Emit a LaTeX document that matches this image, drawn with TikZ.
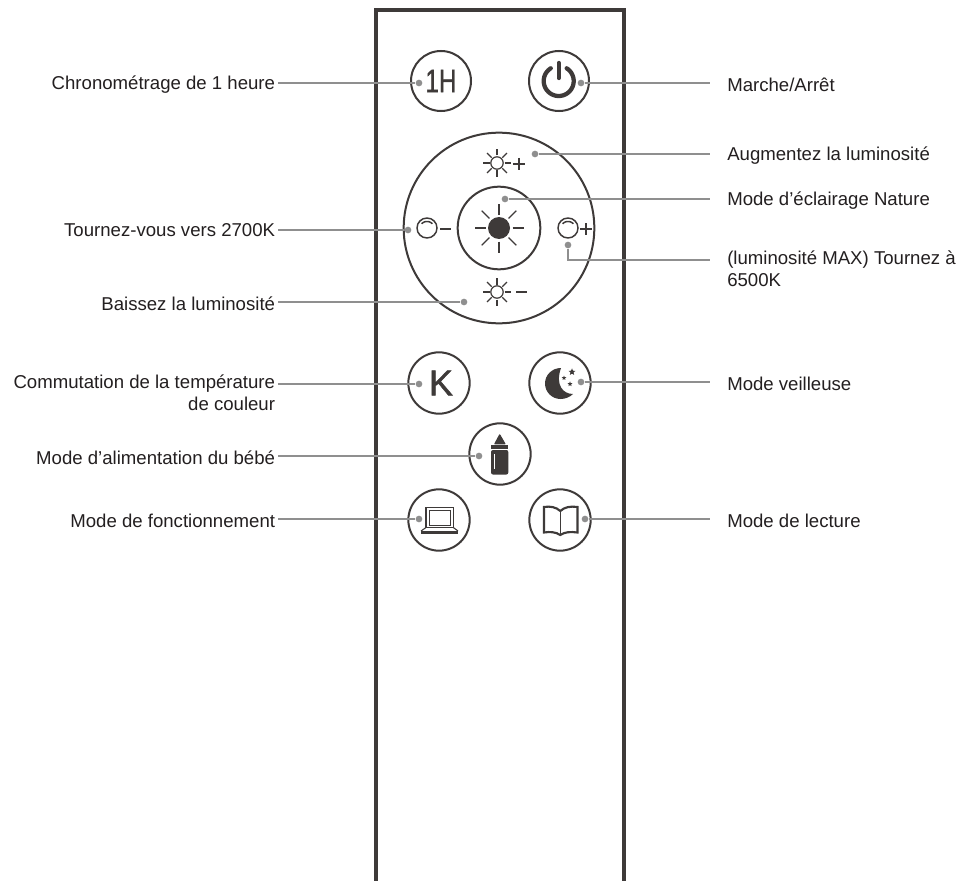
\documentclass[tikz,border=0pt]{standalone}
\usepackage{fontspec}
\setmainfont{Liberation Sans}
\newfontfamily\heavyfont[RawFeature={embolden=1.2}]{Liberation Sans}
\definecolor{ink}{HTML}{3E3A39}
\definecolor{lead}{HTML}{8F8F8F}
\definecolor{txt}{HTML}{231F20}
\tikzset{
  x=0.75pt,y=-0.75pt,
  lab/.style={inner sep=0pt,text=txt,font=\fontsize{13.95pt}{16.5pt}\selectfont},
  leftlab/.style={lab,anchor=east,align=right,inner xsep=2pt},
  rightlab/.style={lab,anchor=west,align=left,inner xsep=12.75pt},
  dot/.style={circle,fill=lead,inner sep=0pt,minimum size=5pt},
  leader/.style={draw=lead,line width=1.1pt},
  btn/.style={circle,draw=ink,line width=1.5pt,inner sep=0pt,fill=white},
  icon/.style={draw=ink,line width=1.1pt},
  ray/.style={draw=ink,line width=0.9pt},
}
\newcommand{\smallsun}[2]{%
  \draw[ray] (#1,#2) circle (6.2);
  \foreach \a in {0,45,...,315}
    \draw[ray] ({#1+7.5*cos(\a)},{#2+7.5*sin(\a)}) -- ({#1+14*cos(\a)},{#2+14*sin(\a)});
}
\newcommand{\bulb}[2]{%
  \draw[icon] (#1,#2) circle (10);
  \draw[ray,line width=1.1pt] plot[domain=-50:50,samples=20] ({#1+7*sin(\x)},{#2-6.5*cos(\x)});
}
\newcommand{\starshape}[3]{%
  \fill[ink] plot[samples at={0,...,9},variable=\t]
     ({#1+#3*(1-0.55*mod(\t,2))*cos(-90+36*\t)},{#2+#3*(1-0.55*mod(\t,2))*sin(-90+36*\t)}) -- cycle;
}
\begin{document}
\begin{tikzpicture}
\useasboundingbox (0,0) rectangle (958,881);
\fill[white] (0,0) rectangle (958,881);
% body
\draw[draw=ink,line width=2.4pt] (376,881) -- (376,10) -- (624,10) -- (624,881);
% buttons
\node[btn,minimum size=45pt] (hour) at (441,81) {};
\node[btn,minimum size=45pt] (power) at (559,81) {};
\node[btn,minimum size=143pt] (ring) at (499,228) {};
\node[btn,minimum size=62pt] (nature) at (499,228) {};
\node[btn,minimum size=46pt] (kelvin) at (439,383) {};
\node[btn,minimum size=46pt] (moon) at (560,383) {};
\node[btn,minimum size=46pt] (bottle) at (500,454) {};
\node[btn,minimum size=46pt] (laptop) at (439,520) {};
\node[btn,minimum size=46pt] (book) at (560,520) {};
% button glyphs
\node[inner sep=0pt,text=ink,font=\heavyfont\fontsize{24.5pt}{24.5pt}\selectfont,xscale=0.74] (hourtxt) at (441,81) {1H};
\node[inner sep=0pt,text=ink,font=\heavyfont\fontsize{27pt}{27pt}\selectfont] (ktxt) at (441,383) {K};
% power
\draw[draw=ink,line width=3.2pt,line cap=round] plot[domain=32:328,samples=50] ({558.7+15*sin(\x)},{81-15*cos(\x)});
\draw[draw=ink,line width=3.2pt,line cap=round] (558.7,63) -- (558.7,78);
% suns
\smallsun{497}{163}
\draw[ray] (513,164) -- (525,164) (519,158) -- (519,170);
\smallsun{497}{292}
\draw[draw=ink,line width=1.3pt] (516,292) -- (527,292);
% nature sun
\fill[ink] (499,228) circle (11);
\foreach \a in {0,45,...,315}
  \draw[ray] ({499+13.5*cos(\a)},{228+13.5*sin(\a)}) -- ({499+24.5*cos(\a)},{228+24.5*sin(\a)});
% bulbs
\bulb{427}{228}
\draw[draw=ink,line width=1.5pt] (440,229) -- (451,229);
\bulb{568}{228}
\draw[ray] (580,229) -- (592,229) (586,223) -- (586,235);
% moon
\fill[ink] (561,368) .. controls (552,368) and (545,375) .. (545,383.5)
  .. controls (545,392) and (552,399) .. (560.5,399)
  .. controls (565.5,399) and (570,397) .. (573,394)
  .. controls (563,394) and (555,385) .. (561,368) -- cycle;
\starshape{572}{372}{3.6}
\starshape{564}{378}{2.4}
\starshape{570}{384}{2.6}
% bottle
\filldraw[fill=ink,draw=ink,line width=1pt,line join=round] (499.7,435) -- (495,443.8) -- (504.8,443.8) -- cycle;
\fill[ink] (491,445.3) rectangle (508.3,448.7);
\fill[ink,rounded corners=1.5pt] (491,450) rectangle (508.3,474.5);
\draw[draw=white,line width=0.4pt] (494.7,454) -- (494.7,469);
% laptop
\draw[icon,line width=0.9pt] (426,507.5) rectangle (453.3,527.5);
\draw[icon,line width=0.7pt] (429,510) rectangle (450.5,525);
\draw[icon,line width=0.8pt] (426,527.5) -- (421,531) (453.3,527.5) -- (458,531);
\fill[ink] (420.7,530.5) rectangle (458.3,533.5);
% book
\draw[icon,line width=1.6pt] (560.3,511) .. controls (556,507) and (550,506) .. (544,507) -- (544,532.5)
  .. controls (550,531.5) and (556,532) .. (560.3,535)
  .. controls (564.5,532) and (570.5,531.5) .. (577.5,532.5) -- (577.5,507)
  .. controls (570.5,506) and (564.5,507) .. (560.3,511);
\draw[icon,line width=0.7pt] (560.3,511) -- (560.3,535);
% dots
\node[dot] (d1) at (419,83) {};
\node[dot] (d2) at (581,83) {};
\node[dot] (d3) at (535,154) {};
\node[dot] (d4) at (505,199) {};
\node[dot] (d5) at (408,230) {};
\node[dot] (d6) at (568,245) {};
\node[dot] (d7) at (464,302) {};
\node[dot] (d8) at (419,384) {};
\node[dot] (d9) at (581,382) {};
\node[dot] (d10) at (479,456) {};
\node[dot] (d11) at (419,519) {};
\node[dot] (d12) at (585,519) {};
% labels
\node[leftlab] (l1) at (278,85) {Chronométrage de 1 heure};
\node[rightlab] (l2) at (710,85) {Marche/Arrêt};
\node[rightlab] (l3) at (710,156) {Augmentez la luminosité};
\node[rightlab] (l4) at (710,201) {Mode d'éclairage Nature};
\node[leftlab] (l5) at (278,230) {Tournez-vous vers 2700K};
\node[rightlab,anchor=north west] (l6) at (710,251) {(luminosité MAX) Tournez à\\6500K};
\node[leftlab] (l7) at (278,304) {Baissez la luminosité};
\node[leftlab,anchor=north east] (l8) at (278,375) {Commutation de la température\\de couleur};
\node[rightlab] (l9) at (710,384) {Mode veilleuse};
\node[leftlab] (l10) at (278,458) {Mode d'alimentation du bébé};
\node[leftlab] (l11) at (278,521) {Mode de fonctionnement};
\node[rightlab] (l12) at (710,521) {Mode de lecture};
\coordinate (e6) at (710,260);
\coordinate (e8) at (278,384);
% connectors
\draw[leader] (l1.east |- d1) -- (d1);
\draw[leader] (d2) -- (l2.west |- d2);
\draw[leader] (d3) -- (l3.west |- d3);
\draw[leader] (d4) -- (l4.west |- d4);
\draw[leader] (l5.east |- d5) -- (d5);
\draw[leader] (d6) |- (e6);
\draw[leader] (l7.east |- d7) -- (d7);
\draw[leader] (e8) -- (d8);
\draw[leader] (d9) -- (l9.west |- d9);
\draw[leader] (l10.east |- d10) -- (d10);
\draw[leader] (l11.east |- d11) -- (d11);
\draw[leader] (d12) -- (l12.west |- d12);
\end{tikzpicture}
\end{document}
